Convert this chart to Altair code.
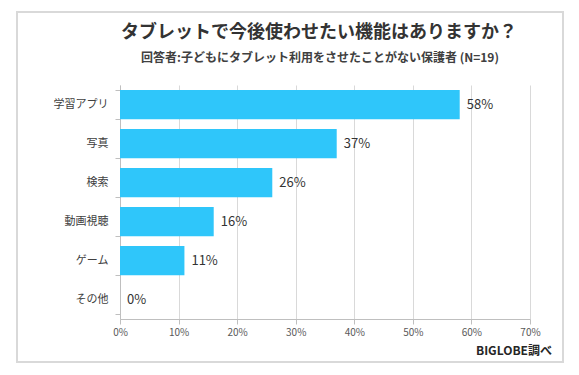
import altair as alt
import pandas as pd

categories = ["学習アプリ", "写真", "検索", "動画視聴", "ゲーム", "その他"]
values = [58, 37, 26, 16, 11, 0]
labels = ["58%", "37%", "26%", "16%", "11%", "0%"]
x_ticks = [0, 10, 20, 30, 40, 50, 60, 70]

title_text = "タブレットで今後使わせたい機能はありますか？"
subtitle_text = "回答者:子どもにタブレット利用をさせたことがない保護者 (N=19)"
source_text = "BIGLOBE調べ"

FONT = "Noto Sans CJK JP"
df = pd.DataFrame({"category": categories, "value": values, "label": labels})

W, H = 410, 234

base = alt.Chart(df).encode(
    y=alt.Y(
        "category:N",
        sort=categories,
        title=None,
        scale=alt.Scale(paddingInner=0.25, paddingOuter=0.125),
        axis=alt.Axis(
            tickBand="extent",
            tickSize=5,
            tickColor="#bfbfbf",
            domainColor="#bfbfbf",
            labelPadding=7,
            labelFontSize=11,
            labelColor="#404040",
            labelFont=FONT,
            grid=False,
        ),
    ),
    x=alt.X(
        "value:Q",
        title=None,
        scale=alt.Scale(domain=[0, 70], nice=False),
        axis=alt.Axis(
            values=x_ticks,
            labelExpr="datum.value + '%'",
            labelFlush=False,
            grid=True,
            gridColor="#d9d9d9",
            tickSize=5,
            tickColor="#bfbfbf",
            domainColor="#bfbfbf",
            labelPadding=3,
            labelFontSize=10,
            labelColor="#595959",
            labelFont=FONT,
        ),
    ),
)

bars = base.mark_bar(color="#2FC6FA")
text = base.mark_text(align="left", baseline="middle", dx=7, fontSize=13, font=FONT, color="#333333").encode(
    text="label:N"
)

frame = alt.Chart(pd.DataFrame({"a": [0]})).mark_rect(
    fill=None, stroke="#d9d9d9", strokeWidth=2, clip=False
).encode(x=alt.value(-103), x2=alt.value(443), y=alt.value(-73), y2=alt.value(277))

title = alt.Chart(pd.DataFrame({"t": [title_text]})).mark_text(
    fontSize=18, fontWeight="bold", font=FONT, color="#333333", align="center", baseline="middle"
).encode(text="t:N", x=alt.value(199), y=alt.value(-52))

subtitle = alt.Chart(pd.DataFrame({"t": [subtitle_text]})).mark_text(
    fontSize=12, fontWeight="bold", font=FONT, color="#404040", align="center", baseline="middle"
).encode(text="t:N", x=alt.value(200), y=alt.value(-27))

source = alt.Chart(pd.DataFrame({"t": [source_text]})).mark_text(
    fontSize=12, fontWeight="bold", font=FONT, color="#262626", align="right", baseline="middle"
).encode(text="t:N", x=alt.value(432), y=alt.value(266))

chart = (
    alt.layer(frame, bars, text, title, subtitle, source)
    .properties(
        width=W,
        height=H,
        autosize=alt.AutoSizeParams(type="none"),
        padding={"left": 120, "top": 85, "right": 49, "bottom": 56},
        background="white",
    )
    .configure_view(stroke=None)
)

chart.save("out.html", embed_options={"renderer": "svg", "actions": False})
